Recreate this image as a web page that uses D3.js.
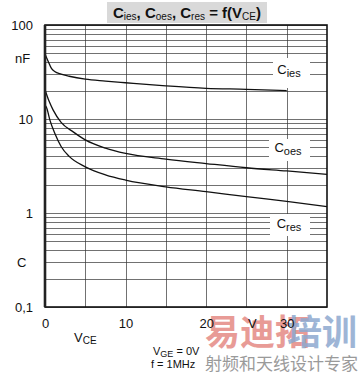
<!DOCTYPE html>
<html>
<head>
<meta charset="utf-8">
<script src="https://cdn.jsdelivr.net/npm/d3@7"></script>
<style>
  body { margin: 0; background: #fff; }
  svg { display: block; font-family: 'Liberation Sans', Arial, sans-serif; }
</style>
</head>
<body>
<div id="chart"></div>
<script>
// values (V_CE in volts, capacitance in nF)
const vceIes = [0, 0.4, 0.8, 1.2, 2, 3, 5, 7.5, 10, 15, 20, 25, 30];
const cies = [49, 41, 34.5, 32, 30, 28.5, 26.5, 25.3, 24.3, 22.5, 21.2, 20.7, 20.0];
const vceOes = [0, 0.5, 1, 2, 3.5, 5, 7.5, 10, 15, 20, 25, 30, 35];
const coes = [20.5, 15.5, 12.5, 9.2, 7.3, 6.0, 4.9, 4.3, 3.75, 3.36, 3.03, 2.8, 2.58];
const vceRes = [0, 0.2, 0.6, 1.2, 2, 3, 5, 7.5, 10, 15, 20, 25, 30, 35];
const cres = [14, 13.2, 9.8, 7.1, 5.1, 4.0, 3.1, 2.55, 2.24, 1.9, 1.69, 1.49, 1.33, 1.17];
const xTicks = [0, 10, 20, 30];
const yTicks = [0.1, 1, 10, 100];

const width = 361;
const height = 375;
const x = d3.scaleLinear().domain([0, 35]).range([45, 327]);
const y = d3.scaleLog().domain([0.1, 100]).range([307, 25]);

const svg = d3.select('#chart').append('svg')
  .attr('width', width)
  .attr('height', height);

// watermark (sits under the axis texts)
const wm = svg.append('g').attr('font-family', 'Noto Sans CJK SC, sans-serif');
wm.append('text').attr('x', 205).attr('y', 345).attr('font-size', 35)
  .attr('font-weight', 'bold').attr('fill', '#e58a84').attr('opacity', 0.85)
  .text('易迪拓');
wm.append('text').attr('x', 287).attr('y', 345).attr('font-size', 35)
  .attr('font-weight', 'bold').attr('fill', '#8ea9cf').attr('opacity', 0.85)
  .text('培训');
wm.append('text').attr('x', 205).attr('y', 370).attr('font-size', 17)
  .attr('fill', '#9a9a9a').text('射频和天线设计专家');

// grid
const grid = svg.append('g').attr('stroke', '#333').attr('stroke-width', 0.7);
grid.selectAll('line.h')
  .data(y.ticks())
  .join('line')
  .attr('x1', x(0)).attr('x2', x(35))
  .attr('y1', (d) => Math.round(y(d)) + 0.5)
  .attr('y2', (d) => Math.round(y(d)) + 0.5);
grid.selectAll('line.v')
  .data(d3.range(5, 35, 5))
  .join('line')
  .attr('y1', y(100)).attr('y2', y(0.1))
  .attr('x1', (d) => Math.round(x(d)) + 0.5)
  .attr('x2', (d) => Math.round(x(d)) + 0.5);

// curves
const series = [
  { name: 'ies', xs: vceIes, ys: cies },
  { name: 'oes', xs: vceOes, ys: coes },
  { name: 'res', xs: vceRes, ys: cres },
];
const line = d3.line()
  .x((d) => x(d[0]))
  .y((d) => y(d[1]))
  .curve(d3.curveMonotoneX);
svg.append('g')
  .selectAll('path')
  .data(series)
  .join('path')
  .attr('fill', 'none')
  .attr('stroke', '#111')
  .attr('stroke-width', 1.3)
  .attr('d', (s) => line(s.xs.map((v, i) => [v, s.ys[i]])));

// curve labels with white boxes over the grid
const labels = [
  { name: 'ies', cx: 289, cy: 74, bx: 273, by: 58, bw: 37, bh: 30 },
  { name: 'oes', cx: 288, cy: 152, bx: 269, by: 139, bw: 41, bh: 22 },
  { name: 'res', cx: 289, cy: 228, bx: 270, by: 214, bw: 40, bh: 22 },
];
const lab = svg.append('g');
lab.selectAll('rect')
  .data(labels)
  .join('rect')
  .attr('x', (d) => d.bx).attr('y', (d) => d.by)
  .attr('width', (d) => d.bw).attr('height', (d) => d.bh)
  .attr('fill', '#fff');
const lt = lab.selectAll('text')
  .data(labels)
  .join('text')
  .attr('x', (d) => d.cx)
  .attr('y', (d) => d.cy)
  .attr('text-anchor', 'middle')
  .attr('font-size', 13)
  .attr('fill', '#111');
lt.append('tspan').text('C');
lt.append('tspan').attr('font-size', 11).attr('dy', 3).text((d) => d.name);

// frame
svg.append('rect')
  .attr('x', x(0)).attr('y', y(100))
  .attr('width', x(35) - x(0)).attr('height', y(0.1) - y(100))
  .attr('fill', 'none')
  .attr('stroke', '#111')
  .attr('stroke-width', 1.6);
svg.append('line')
  .attr('x1', x(0)).attr('x2', x(0))
  .attr('y1', y(100)).attr('y2', y(0.1))
  .attr('stroke', '#222').attr('stroke-width', 2.6);

// axes labels
const yAxis = svg.append('g')
  .attr('transform', `translate(${x(0) - 9},0)`)
  .call(d3.axisLeft(y).tickValues(yTicks).tickSize(0)
    .tickFormat((d) => (d < 1 ? '0,1' : d)));
yAxis.select('.domain').remove();
yAxis.selectAll('text').attr('font-size', 13).attr('fill', '#111')
  .attr('font-family', 'Liberation Sans, Arial, sans-serif');

const xAxis = svg.append('g')
  .attr('transform', `translate(0,${y(0.1) + 9})`)
  .call(d3.axisBottom(x).tickValues(xTicks).tickSize(0));
xAxis.select('.domain').remove();
xAxis.selectAll('text').attr('font-size', 13).attr('fill', '#111')
  .attr('font-family', 'Liberation Sans, Arial, sans-serif');

const txt = svg.append('g').attr('fill', '#111').attr('font-size', 13);
txt.append('text').attr('x', 15).attr('y', 63).text('nF');
txt.append('text').attr('x', 17).attr('y', 267).text('C');
txt.append('text').attr('x', 248).attr('y', 328).text('V');
const vce = txt.append('text').attr('x', 74).attr('y', 342);
vce.append('tspan').text('V');
vce.append('tspan').attr('font-size', 10).attr('dy', 2).text('CE');

const cond = svg.append('g').attr('fill', '#111').attr('font-size', 11);
const vge = cond.append('text').attr('x', 153).attr('y', 355);
vge.append('tspan').text('V');
vge.append('tspan').attr('font-size', 9).attr('dy', 2).text('GE');
vge.append('tspan').attr('dy', -2).text(' = 0V');
cond.append('text').attr('x', 151).attr('y', 368).text('f = 1MHz');

// title
svg.append('rect')
  .attr('x', 107).attr('y', 2).attr('width', 160).attr('height', 21)
  .attr('fill', '#d9d9d9');
const title = svg.append('text')
  .attr('x', 187).attr('y', 18)
  .attr('text-anchor', 'middle')
  .attr('font-size', 15)
  .attr('font-weight', 'bold')
  .attr('fill', '#111');
const parts = [['C', 'ies', ', '], ['C', 'oes', ', '], ['C', 'res', ' = f(V']];
parts.forEach((p) => {
  title.append('tspan').text(p[0]);
  title.append('tspan').attr('font-size', 10).attr('font-weight', 'normal').attr('dy', 2).text(p[1]);
  title.append('tspan').attr('dy', -2).text(p[2]);
});
title.append('tspan').attr('font-size', 10).attr('font-weight', 'normal').attr('dy', 2).text('CE');
title.append('tspan').attr('dy', -2).text(')');
</script>
</body>
</html>
